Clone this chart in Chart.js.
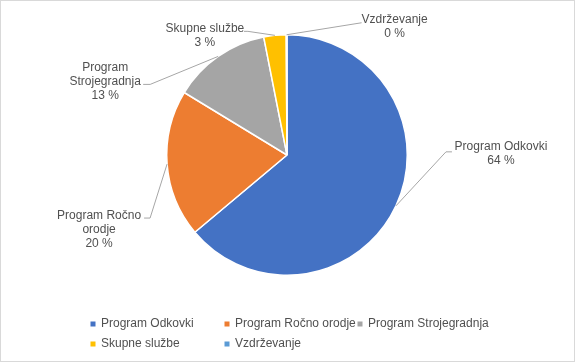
<!DOCTYPE html>
<html>
<head>
<meta charset="utf-8">
<script src="https://cdn.jsdelivr.net/npm/chart.js@4/dist/chart.umd.min.js"></script>
<style>
  body { margin: 0; background: #fff; }
  canvas { display: block; }
</style>
</head>
<body>
<canvas id="pieChart" width="575" height="362"></canvas>
<script>
const categories = ['Program Odkovki', 'Program Ročno orodje', 'Program Strojegradnja', 'Skupne službe', 'Vzdrževanje'];
const shares = [63.9, 19.8, 13.2, 3.0, 0.1];
const colors = ['#4472C4', '#ED7D31', '#A5A5A5', '#FFC000', '#5B9BD5'];
// wrapped category names used for the data labels
const labelLines = [['Program Odkovki'], ['Program Ročno', 'orodje'], ['Program', 'Strojegradnja'], ['Skupne službe'], ['Vzdrževanje']];

// label placement relative to the slice anchor: text x, text y, elbow x, elbow y, line end x
const labelOffsets = [
    [105, -59, 50, -54, 56],
    [-68, 52, -17, 54, -23],
    [-113, 11, -68, 28, -75],
    [-70, -7, -27, -4, -31],
    [108, -15, 75, -12, 75]
];

const textColor = '#505050';
const font = '12px "Liberation Sans", Arial, sans-serif';

const labelPlugin = {
    id: 'outsideLabels',
    afterDatasetsDraw(chart) {
        const ctx = chart.ctx;
        const meta = chart.getDatasetMeta(0);
        const total = shares.reduce((s, v) => s + v, 0);
        ctx.save();
        ctx.font = font;
        meta.data.forEach((arc, i) => {
            const p = arc.getProps(['x', 'y', 'startAngle', 'endAngle', 'outerRadius'], true);
            const a = (p.startAngle + p.endAngle) / 2;
            const ax = p.x + Math.cos(a) * p.outerRadius;
            const ay = p.y + Math.sin(a) * p.outerRadius;
            const o = labelOffsets[i];
            ctx.strokeStyle = '#A6A6A6';
            ctx.lineWidth = 1;
            ctx.beginPath();
            ctx.moveTo(ax, ay);
            ctx.lineTo(ax + o[2], ay + o[3]);
            ctx.lineTo(ax + o[4], ay + o[3]);
            ctx.stroke();
            const lines = labelLines[i].concat([Math.round(shares[i] / total * 100) + ' %']);
            ctx.fillStyle = textColor;
            ctx.textAlign = 'center';
            ctx.textBaseline = 'middle';
            lines.forEach((t, k) => ctx.fillText(t, ax + o[0], ay + o[1] + k * 14));
        });
        ctx.restore();
    },
    afterDraw(chart) {
        const ctx = chart.ctx;
        ctx.save();
        // legend in grid layout, 3 columns
        const cols = [93, 227, 360];
        const rows = [324, 344];
        ctx.font = font;
        ctx.textBaseline = 'middle';
        ctx.textAlign = 'left';
        categories.forEach((name, i) => {
            const col = i % 3;
            const row = Math.floor(i / 3);
            ctx.fillStyle = colors[i];
            ctx.fillRect(cols[col] - 2.5, rows[row] - 2.5, 5, 5);
            ctx.fillStyle = textColor;
            ctx.fillText(name, cols[col] + 8, rows[row]);
        });
        // chart frame
        ctx.strokeStyle = '#D9D9D9';
        ctx.lineWidth = 1;
        ctx.strokeRect(0.5, 0.5, chart.width - 1, chart.height - 1);
        ctx.restore();
    }
};

const ctx = document.getElementById('pieChart').getContext('2d');
new Chart(ctx, {
    type: 'pie',
    data: {
        labels: categories,
        datasets: [{
            data: shares,
            backgroundColor: colors,
            borderColor: '#ffffff',
            borderWidth: 1.5
        }]
    },
    options: {
        responsive: false,
        animation: false,
        layout: { padding: { top: 34, bottom: 86, left: 166, right: 167 } },
        plugins: {
            legend: { display: false },
            tooltip: { enabled: false }
        }
    },
    plugins: [labelPlugin]
});
</script>
</body>
</html>
